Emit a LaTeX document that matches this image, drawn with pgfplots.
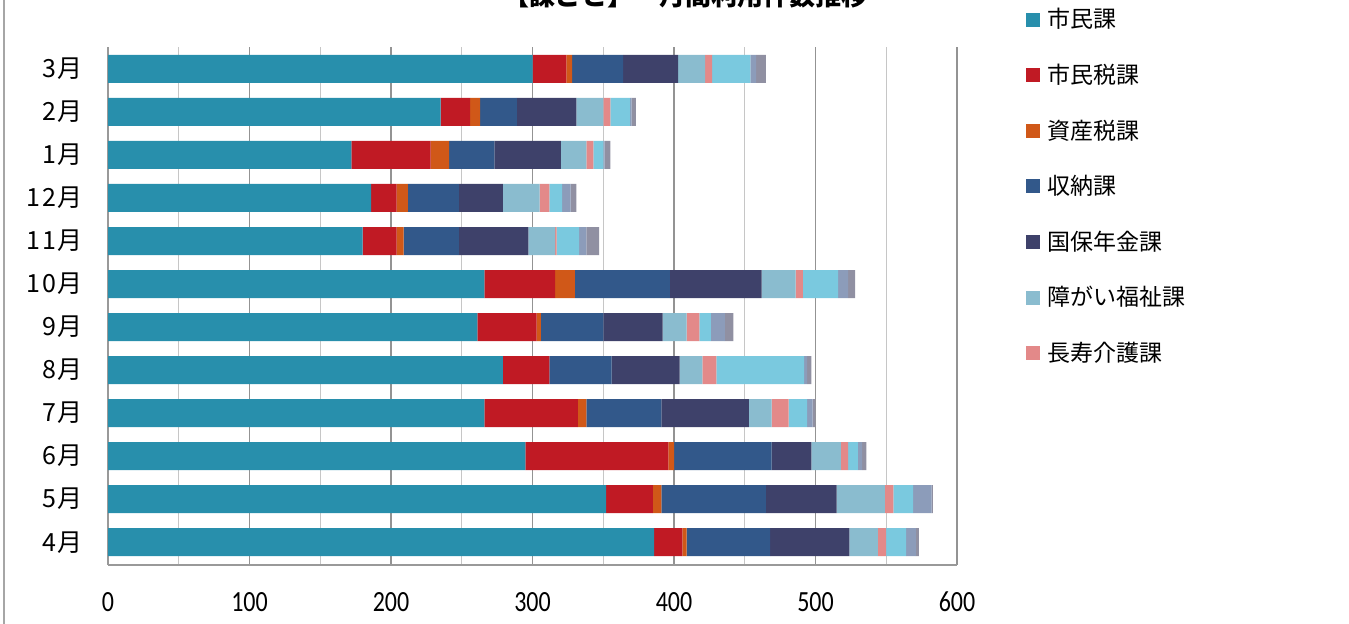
\documentclass[border=0pt]{standalone}
\usepackage{graphicx}
\usepackage{pgfplots}
\pgfplotsset{compat=1.18}
\usepackage{pgfplotstable}
\usepackage{fontspec}
\setmainfont{Carlito}
\newfontfamily\jp{Noto Sans CJK JP}
\newfontfamily\jpwide[LetterSpace=8]{Noto Sans CJK JP}

\definecolor{c1}{RGB}{40,143,172}
\definecolor{c2}{RGB}{192,26,36}
\definecolor{c3}{RGB}{208,88,24}
\definecolor{c4}{RGB}{50,88,138}
\definecolor{c5}{RGB}{62,65,106}
\definecolor{c6}{RGB}{138,188,207}
\definecolor{c7}{RGB}{227,137,137}
\definecolor{c8}{RGB}{122,201,223}
\definecolor{c9}{RGB}{140,156,186}
\definecolor{c10}{RGB}{144,144,162}

% rows: 4月 (0) ... 3月 (11)
\pgfplotstableread{
m a   b   c  d  e  f  g  h  i  j
0 386 20  3  59 56 20 6  14 7  2
1 352 33  6  74 50 34 6  14 13 1
2 295 101 4  69 28 21 5  7  3  3
3 266 66  6  53 62 16 12 13 4  2
4 279 33  0  44 48 16 10 62 2  3
5 261 42  3  44 42 17 9  8  10 6
6 266 50  14 67 65 24 5  25 7  5
7 180 24  5  39 49 19 1  16 5  9
8 186 18  8  36 31 26 7  9  6  4
9 172 56  13 32 47 18 5  7  1  4
10 235 21 7  26 42 19 5  14 1  3
11 300 24 4  36 39 19 5  27 4  7
}\counts

\begin{document}
\begin{tikzpicture}
\useasboundingbox (0,0) rectangle (674.5pt,312pt);
\clip (0,0) rectangle (674.5pt,312pt);
\draw[gray!70, line width=0.7pt] (2pt,0) -- (2pt,312pt);
\node[font=\jp\bfseries\fontsize{13}{15}\selectfont] at (342.5pt,314.5pt) {【課ごと】\quad 月間利用件数推移};
\begin{axis}[
    at={(54pt,29.5pt)}, anchor=south west,
    scale only axis, width=424.5pt, height=259pt,
    xbar stacked, bar width=14pt,
    xmin=0, xmax=600, ymin=-0.53, ymax=11.51,
    xtick={0,100,...,600}, minor xtick={50,150,...,550},
    ytick={0,...,11},
    yticklabels={4月,5月,6月,7月,8月,9月,10月,11月,12月,1月,2月,3月},
    yticklabel style={font=\jpwide\fontsize{12.5}{14}\selectfont, xshift=-9pt},
    xticklabel={\scalebox{1}[1.22]{\pgfmathprintnumber{\tick}}},
    xticklabel style={font=\fontsize{12}{14}\selectfont, yshift=-10pt},
    /pgf/number format/assume math mode=true,
    axis x line*=bottom, axis y line*=left,
    axis line style={gray!80, line width=0.7pt},
    xmajorgrids, xminorgrids,
    major grid style={gray!85, line width=0.6pt},
    minor grid style={gray!45, line width=0.6pt},
    major tick length=0pt, minor tick length=0pt,
    legend style={at={(rel axis cs:1.0813,1.077)}, anchor=north west,
        draw=none, fill=none, font=\jp\fontsize{11.5}{13}\selectfont,
        row sep=15.6pt, inner sep=0pt,
        nodes={inner sep=0.5pt},
        /tikz/every odd column/.style={column sep=3pt}},
    legend cell align=left,
    legend image code/.code={\fill[#1] (0pt,-3.5pt) rectangle (7pt,3.5pt);},
]
\addplot[fill=c1, draw=none] table[x=a, y=m] {\counts};
\addplot[fill=c2, draw=none] table[x=b, y=m] {\counts};
\addplot[fill=c3, draw=none] table[x=c, y=m] {\counts};
\addplot[fill=c4, draw=none] table[x=d, y=m] {\counts};
\addplot[fill=c5, draw=none] table[x=e, y=m] {\counts};
\addplot[fill=c6, draw=none] table[x=f, y=m] {\counts};
\addplot[fill=c7, draw=none] table[x=g, y=m] {\counts};
\addplot[fill=c8, draw=none] table[x=h, y=m] {\counts};
\addplot[fill=c9, draw=none] table[x=i, y=m] {\counts};
\addplot[fill=c10, draw=none] table[x=j, y=m] {\counts};
\legend{市民課,市民税課,資産税課,収納課,国保年金課,障がい福祉課,長寿介護課}
\end{axis}
\end{tikzpicture}
\end{document}
